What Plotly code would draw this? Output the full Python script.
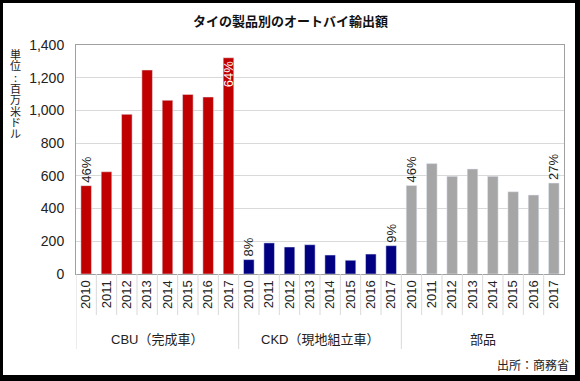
import plotly.graph_objects as go

groups = ["CBU（完成車）", "CKD（現地組立車）", "部品"]
years = ["2010", "2011", "2012", "2013", "2014", "2015", "2016", "2017"]
cbu = [540, 625, 976, 1247, 1062, 1098, 1082, 1322]
ckd = [88, 190, 165, 179, 116, 84, 122, 173]
parts = [541, 675, 597, 642, 597, 503, 483, 556]
cbu_pct = ["46%", "", "", "", "", "", "", "64%"]
ckd_pct = ["8%", "", "", "", "", "", "", "9%"]
parts_pct = ["46%", "", "", "", "", "", "", "27%"]
colors = ["#C00000", "#000080", "#A6A6A6"]

title = "タイの製品別のオートバイ輸出額"
unit_label = "単位:百万米ドル"
source = "出所：商務省"

W, H = 580, 381
L, R, T, B = 76, 16, 45, 107
PW, PH = W - L - R, H - T - B

def px(x):
    return (x - L) / PW

def py(y):
    return (H - B - y) / PH

fig = go.Figure()
series = [cbu, ckd, parts]
pcts = [cbu_pct, ckd_pct, parts_pct]
tickvals, ticktext = [], []
for gi, (g, vals, pct) in enumerate(zip(groups, series, pcts)):
    xs = [f"{gi}-{y}" for y in years]
    tickvals += xs
    ticktext += years
    pos = []
    tcol = []
    for i, v in enumerate(vals):
        if gi == 0 and i == len(vals) - 1:
            pos.append("inside")
            tcol.append("white")
        else:
            pos.append("outside")
            tcol.append("#222222")
    fig.add_trace(go.Bar(
        x=xs, y=vals, marker_color=colors[gi], name=g,
        text=pct, textposition=pos, textangle=-90,
        insidetextanchor="end", constraintext="none", cliponaxis=False,
        textfont=dict(size=13, color=tcol, family="Liberation Sans"),
        showlegend=False, hoverinfo="skip",
    ))

n = len(tickvals)
shapes = []
for i in range(1, n):
    if i % len(years) == 0:
        continue
    shapes.append(dict(type="line", xref="x", yref="paper", x0=i - 0.5, x1=i - 0.5,
                       y0=py(315), y1=0, line=dict(color="#D9D9D9", width=1)))
for i in range(0, n, len(years)):
    shapes.append(dict(type="line", xref="x", yref="paper", x0=i - 0.5, x1=i - 0.5,
                       y0=py(349), y1=0, line=dict(color="#D9D9D9", width=1)))
frame = [(0, 0, 3, H), (0, 0, W, 3), (W - 5, 0, W, H), (0, H - 6, W, H)]
for x0, y0, x1, y1 in frame:
    shapes.append(dict(type="rect", xref="paper", yref="paper",
                       x0=px(x0), x1=px(x1), y0=py(y1), y1=py(y0),
                       fillcolor="black", line=dict(width=0), layer="above"))

annotations = []
for gi, g in enumerate(groups):
    annotations.append(dict(x=gi * len(years) + (len(years) - 1) / 2, xref="x",
                            y=py(339), yref="paper", text=g, showarrow=False,
                            font=dict(size=13, color="#222222",
                                      family="Liberation Sans, Noto Sans CJK JP"),
                            xanchor="center", yanchor="middle"))
unit_text = "<br>".join(f"<span style='font-size:11px'>{c}</span>" for c in unit_label)
annotations.append(dict(x=px(15), y=py(44), xref="paper", yref="paper",
                        text=unit_text, showarrow=False,
                        font=dict(size=8.7, color="#222222", family="Noto Sans CJK JP"),
                        xanchor="center", yanchor="top", align="center"))
annotations.append(dict(x=px(571), y=py(364), xref="paper", yref="paper",
                        text=source, showarrow=False,
                        font=dict(size=12, color="#222222", family="Noto Sans CJK JP"),
                        xanchor="right", yanchor="middle"))
annotations.append(dict(x=0.5 * (px(0) + px(W)), y=py(20), xref="paper", yref="paper",
                        text="<b>" + title + "</b>", showarrow=False,
                        font=dict(size=13, color="#111111", family="Noto Sans CJK JP"),
                        xanchor="center", yanchor="middle"))

fig.update_layout(
    width=W, height=H,
    margin=dict(l=L, r=R, t=T, b=B, autoexpand=False),
    paper_bgcolor="white", plot_bgcolor="white",
    bargap=0.48, hovermode=False,
    shapes=shapes, annotations=annotations,
    font=dict(family="Liberation Sans", color="#222222"),
    xaxis=dict(type="category", tickvals=tickvals, ticktext=ticktext,
               tickangle=-90, range=[-0.5, n - 0.5], automargin=False,
               showline=True, linecolor="#A0A0A0", mirror=True,
               ticks="", tickfont=dict(size=13, color="#222222")),
    yaxis=dict(range=[0, 1400], dtick=200, tickformat=",d", automargin=False,
               showgrid=True, gridcolor="#D9D9D9", zeroline=False,
               showline=True, linecolor="#A0A0A0", mirror=True,
               ticks="", ticklabelstandoff=8,
               tickfont=dict(size=14, color="#222222")),
)

fig.write_html("out.html", config={"displayModeBar": False},
               post_script="document.body.style.margin='0px';")
